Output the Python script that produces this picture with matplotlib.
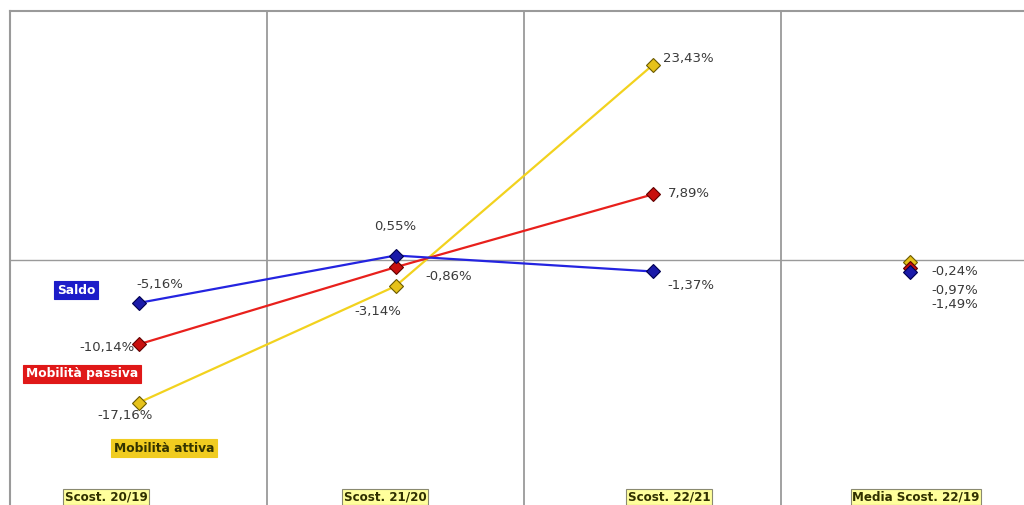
import matplotlib.pyplot as plt
import numpy as np

categories = ["Scost. 20/19", "Scost. 21/20", "Scost. 22/21", "Media Scost. 22/19"]
saldo = [-5.16, 0.55, -1.37, -1.49]
passiva = [-10.14, -0.86, 7.89, -0.97]
attiva = [-17.16, -3.14, 23.43, -0.24]

# label offsets in pixels from each marker
saldo_off = [(21, 18), (0, 29), (38, -14), (45, -32)]
passiva_off = [(-32, -3), (53, -9), (36, 1), (45, -22)]
attiva_off = [(-13, -13), (-18, -25), (36, 7), (45, -9)]


def pct(v):
    return f"{v:.2f}%".replace(".", ",")


fig = plt.figure(figsize=(10.24, 5.05), dpi=100)
ax = fig.add_axes([10 / 1024, -0.009, 1028 / 1024, 0.988])
ax.set_xlim(0, 4)
ax.set_ylim(-30, 30)

grid_c = "#9a9a9a"
for xv in [1, 2, 3]:
    ax.axvline(xv, color=grid_c, lw=1.3, zorder=1)
ax.axhline(0, color=grid_c, lw=1.0, zorder=1)
for s in ["right", "bottom"]:
    ax.spines[s].set_visible(False)
for s in ["left", "top"]:
    ax.spines[s].set_color(grid_c)
    ax.spines[s].set_linewidth(1.5)
ax.set_xticks([])
ax.set_yticks([])

x = np.arange(4) + 0.5
series = [
    (attiva, attiva_off, "#f2d21e", "#e6c21a", "#6b5a00"),
    (passiva, passiva_off, "#e8201c", "#c8100e", "#600000"),
    (saldo, saldo_off, "#2424e0", "#1a1aa8", "#000050"),
]
for vals, offs, lc, fc, ec in series:
    ax.plot(x[:3], vals[:3], color=lc, lw=1.6, zorder=3)
    ax.plot(x, vals, ls="none", marker="D", ms=7.5, mfc=fc, mec=ec, mew=0.8, zorder=4)
    for xi, v, off in zip(x, vals, offs):
        ax.annotate(pct(v), (xi, v), xytext=off, textcoords="offset pixels",
                    ha="center", va="center", fontsize=9.5, color="#3a3a3a",
                    family="DejaVu Sans", zorder=5)

# series name boxes
name_boxes = [
    ("Saldo", 0.257, -3.6, "#1c1cc8", "white"),
    ("Mobilità passiva", 0.28, -13.7, "#e01818", "white"),
    ("Mobilità attiva", 0.599, -22.6, "#f0cc20", "#333300"),
]
for txt, bx, by, bc, tc in name_boxes:
    ax.text(bx, by, txt, ha="center", va="center", fontsize=8.8, fontweight="bold",
            color=tc, family="DejaVu Sans", zorder=6,
            bbox=dict(boxstyle="square,pad=0.2", fc=bc, ec=bc, lw=0.8))

# category labels along the bottom
cat_x = [(106 - 10) / 257, (385 - 10) / 257, (669 - 10) / 257, (916 - 10) / 257]
for cx, c in zip(cat_x, categories):
    ax.text(cx, -28.5, c, ha="center", va="center", fontsize=8.6, fontweight="bold",
            color="#303000", family="DejaVu Sans", zorder=6,
            bbox=dict(boxstyle="square,pad=0.15", fc="#ffff9c", ec="#8a8a70", lw=0.8))

fig.savefig("out.png", dpi=100)
